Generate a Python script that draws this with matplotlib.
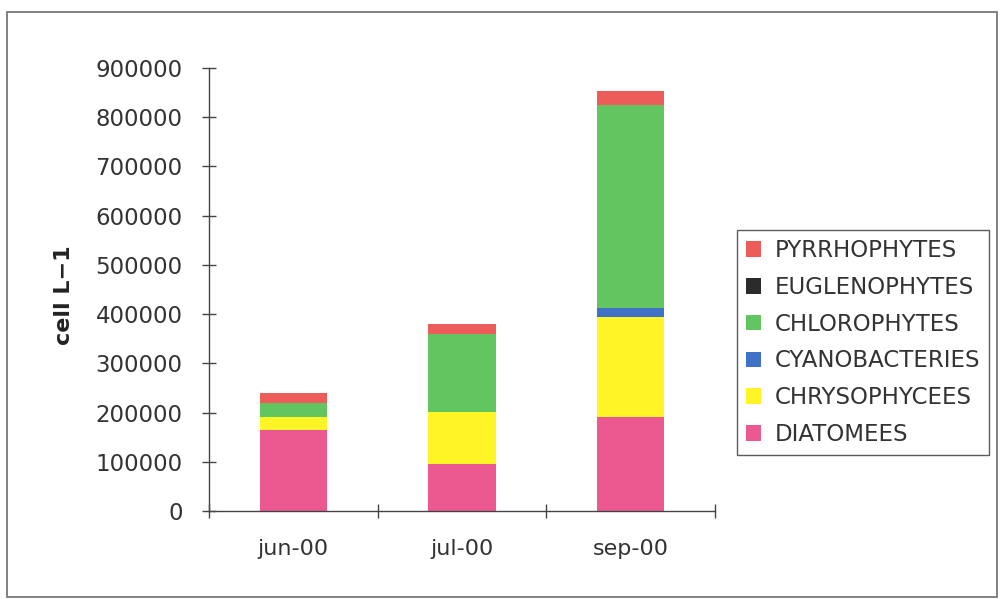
import matplotlib
matplotlib.use("Agg")
import matplotlib.pyplot as plt
from matplotlib.patches import Rectangle, Patch
import numpy as np

categories = ["jun-00", "jul-00", "sep-00"]
diatomees = [164000, 95000, 191000]
chrysophycees = [27000, 106000, 203000]
cyanobacteries = [0, 0, 18000]
chlorophytes = [28000, 158000, 412000]
euglenophytes = [0, 0, 0]
pyrrhophytes = [20000, 20000, 29000]

series = [
    ("DIATOMEES", diatomees, "#EC5890"),
    ("CHRYSOPHYCEES", chrysophycees, "#FFF526"),
    ("CYANOBACTERIES", cyanobacteries, "#3F72C6"),
    ("CHLOROPHYTES", chlorophytes, "#62C560"),
    ("EUGLENOPHYTES", euglenophytes, "#2B2B2B"),
    ("PYRRHOPHYTES", pyrrhophytes, "#EE5C5A"),
]

W, H = 1006, 599
fig = plt.figure(figsize=(W / 100, H / 100), dpi=100)
fig.patch.set_facecolor("white")

# outer frame
fig.patches.append(Rectangle((7 / W, 1 - 597 / H), (997 - 7) / W, (597 - 12) / H,
                             transform=fig.transFigure, fill=False,
                             edgecolor="#777777", linewidth=1.3))

ax = fig.add_axes([209 / W, 1 - 511 / H, (715 - 209) / W, (511 - 68) / H])
x = np.arange(len(categories))
bottom = np.zeros(len(categories))
handles = []
for name, vals, col in series:
    vals = np.array(vals, dtype=float)
    ax.bar(x, vals, width=0.40, bottom=bottom, color=col, edgecolor="none")
    bottom += vals
    handles.append(Patch(facecolor=col, edgecolor="none", label=name))

ax.set_xlim(-0.5, 2.5)
ax.set_ylim(0, 900000)
ax.set_yticks(np.arange(0, 900001, 100000))
ax.set_yticklabels([str(v) for v in range(0, 900001, 100000)])
ax.set_xticks(x)
ax.set_xticklabels(categories)
ax.set_xticks([-0.5, 0.5, 1.5, 2.5], minor=True)

tc = "#333333"
for s in ["top", "right"]:
    ax.spines[s].set_visible(False)
for s in ["left", "bottom"]:
    ax.spines[s].set_color("#444444")
    ax.spines[s].set_linewidth(1.0)

ax.tick_params(axis="y", direction="inout", length=10, width=1.0, color="#444444",
               labelsize=16.5, labelcolor=tc, pad=14)
ax.tick_params(axis="x", which="major", length=0, labelsize=16, labelcolor=tc, pad=20)
ax.tick_params(axis="x", which="minor", direction="inout", length=10, width=1.0,
               color="#444444")

ax.set_ylabel("cell L\u22121", fontsize=16, fontweight="bold", color="#222222")
ax.yaxis.set_label_coords(-0.267, 0.488)

leg = fig.legend(handles=handles[::-1], loc="upper left",
                 bbox_to_anchor=(737 / W, 1 - 230 / H), frameon=True,
                 fancybox=False, edgecolor="#333333", fontsize=16.5,
                 labelspacing=0.6, handlelength=0.65, handleheight=0.65,
                 handletextpad=0.6, borderpad=0.4, borderaxespad=0)
for t in leg.get_texts():
    t.set_color(tc)
leg.get_frame().set_linewidth(1.0)

fig.savefig("out.png", dpi=100, facecolor="white")
